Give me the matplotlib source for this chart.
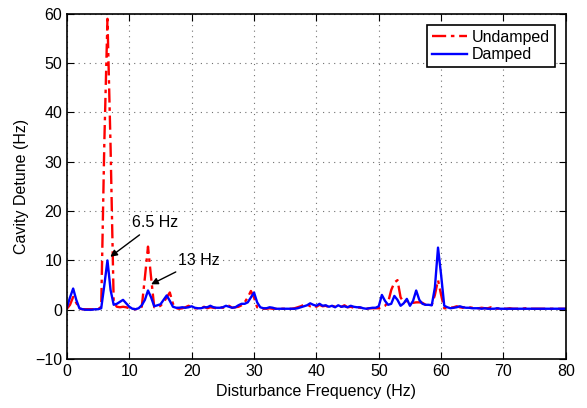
import numpy as np
import matplotlib
matplotlib.use('Agg')
import matplotlib.pyplot as plt

plt.rcParams['font.family'] = ['Liberation Sans', 'DejaVu Sans']

# frequency grid, 0.5 Hz steps from 0 to 80 Hz
freq = np.arange(0, 80.5, 0.5)

undamped = [
    0.2, 1.0, 2.6, 1.4, 0.2, 0.1, 0.1, 0.1, 0.1, 0.1,      # 0 - 4.5
    0.1, 0.6, 34.0, 59.0, 33.0, 1.5, 0.6, 0.5, 0.6, 0.5,   # 5 - 9.5
    0.3, 0.2, 0.1, 0.2, 0.6, 6.5, 12.8, 6.5, 0.5, 0.5,     # 10 - 14.5
    0.8, 1.5, 2.5, 3.5, 1.2, 0.3, 0.2, 0.3, 0.5, 0.8,      # 15 - 19.5
    0.5, 0.3, 0.3, 0.4, 0.6, 0.3, 0.5, 0.4, 0.3, 0.5,      # 20 - 24.5
    0.4, 0.6, 0.8, 0.4, 0.5, 0.6, 0.9, 1.5, 2.5, 3.8,      # 25 - 29.5
    2.5, 0.5, 0.3, 0.2, 0.2, 0.3, 0.2, 0.2, 0.2, 0.2,      # 30 - 34.5
    0.2, 0.2, 0.2, 0.3, 0.5, 0.7, 1.0, 1.1, 0.7, 0.9,      # 35 - 39.5
    0.6, 1.0, 0.7, 0.8, 0.5, 0.8, 0.6, 0.7, 0.6, 0.9,      # 40 - 44.5
    0.5, 0.6, 0.4, 0.5, 0.4, 0.3, 0.2, 0.3, 0.3, 0.3,      # 45 - 49.5
    0.3, 0.5, 0.8, 1.5, 4.0, 5.5, 6.0, 2.5, 1.5, 1.8,      # 50 - 54.5
    1.6, 1.4, 1.5, 1.5, 1.4, 1.0, 0.8, 1.0, 3.0, 6.0,      # 55 - 59.5
    3.0, 0.3, 0.3, 0.4, 0.5, 0.7, 0.5, 0.4, 0.7, 0.5,      # 60 - 64.5
    0.4, 0.3, 0.3, 0.4, 0.3, 0.3, 0.5, 0.3, 0.2, 0.3,      # 65 - 69.5
    0.2, 0.2, 0.3, 0.2, 0.2, 0.2, 0.2, 0.3, 0.2, 0.2,      # 70 - 74.5
    0.2, 0.2, 0.2, 0.2, 0.2, 0.2, 0.2,                     # 75 - 78
    0.2, 0.2, 0.2, 0.2,                                    # 78.5 - 80
]

damped = [
    0.5, 2.5, 4.3, 2.0, 0.3, 0.1, 0.0, 0.0, 0.0, 0.1,      # 0 - 4.5
    0.1, 0.3, 5.0, 10.0, 4.0, 1.0, 1.2, 1.6, 2.0, 1.3,     # 5 - 9.5
    0.6, 0.2, 0.1, 0.3, 0.9, 2.0, 3.9, 2.5, 0.7, 0.9,      # 10 - 14.5
    1.1, 2.0, 2.9, 1.8, 0.6, 0.4, 0.4, 0.5, 0.4, 0.5,      # 15 - 19.5
    0.7, 0.4, 0.3, 0.3, 0.5, 0.5, 0.8, 0.5, 0.4, 0.4,      # 20 - 24.5
    0.5, 0.8, 0.6, 0.4, 0.5, 0.9, 1.2, 1.2, 1.5, 2.5,      # 25 - 29.5
    3.5, 1.5, 0.5, 0.3, 0.3, 0.5, 0.4, 0.2, 0.2, 0.2,      # 30 - 34.5
    0.2, 0.2, 0.2, 0.2, 0.3, 0.5, 0.7, 0.9, 1.3, 1.0,      # 35 - 39.5
    0.8, 1.2, 0.8, 0.9, 0.6, 0.8, 0.5, 0.9, 0.6, 0.7,      # 40 - 44.5
    0.5, 0.8, 0.6, 0.5, 0.5, 0.3, 0.2, 0.3, 0.4, 0.4,      # 45 - 49.5
    0.7, 3.0, 1.8, 1.0, 1.2, 2.8, 2.0, 0.8, 1.3, 2.2,      # 50 - 54.5
    0.8, 1.8, 3.9, 2.0, 1.2, 1.0, 1.0, 0.9, 4.5, 12.6,     # 55 - 59.5
    7.0, 0.8, 0.5, 0.3, 0.4, 0.5, 0.7, 0.5, 0.4, 0.4,      # 60 - 64.5
    0.3, 0.3, 0.3, 0.2, 0.3, 0.2, 0.2, 0.2, 0.3, 0.2,      # 65 - 69.5
    0.2, 0.2, 0.2, 0.2, 0.2, 0.2, 0.2, 0.2, 0.2, 0.2,      # 70 - 74.5
    0.2, 0.2, 0.2, 0.2, 0.2, 0.2, 0.2,                     # 75 - 78
    0.2, 0.2, 0.2, 0.2,                                    # 78.5 - 80
]

fig = plt.figure(figsize=(5.87, 4.08), dpi=100)
ax = fig.add_axes([0.114, 0.12, 0.850, 0.846])

ax.plot(freq, undamped, color='red', linestyle=(0, (6, 2, 1.5, 2)), linewidth=1.7, label='Undamped')
ax.plot(freq, damped, color='blue', linestyle='-', linewidth=1.7, label='Damped')

ax.set_xlim(0, 80)
ax.set_ylim(-10, 60)
ax.set_xticks(np.arange(0, 81, 10))
ax.set_yticks(np.arange(-10, 61, 10))
ax.grid(True, linestyle=(0, (1, 4)), color='#707070', linewidth=0.8)
ax.tick_params(direction='in', top=True, right=True, length=5, labelsize=11.5)
for sp in ax.spines.values():
    sp.set_linewidth(1.2)

ax.set_xlabel('Disturbance Frequency (Hz)', fontsize=11.5)
ax.set_ylabel('Cavity Detune (Hz)', fontsize=11.5)

arrow = dict(arrowstyle='-|>', color='black', lw=1, mutation_scale=10)
ax.annotate('6.5 Hz', xy=(6.6, 10.4), xytext=(10.5, 17.6), fontsize=11.5,
            va='center', ha='left', arrowprops=arrow)
ax.annotate('13 Hz', xy=(13.1, 4.9), xytext=(17.8, 10.0), fontsize=11.5,
            va='center', ha='left', arrowprops=arrow)

leg = ax.legend(loc='upper right', fontsize=11.5, fancybox=False, framealpha=1,
                edgecolor='black', borderpad=0.3, handlelength=2.2,
                handletextpad=0.3, labelspacing=0.15, borderaxespad=0.7)
leg.get_frame().set_linewidth(1.2)

fig.savefig('out.png', dpi=100)
